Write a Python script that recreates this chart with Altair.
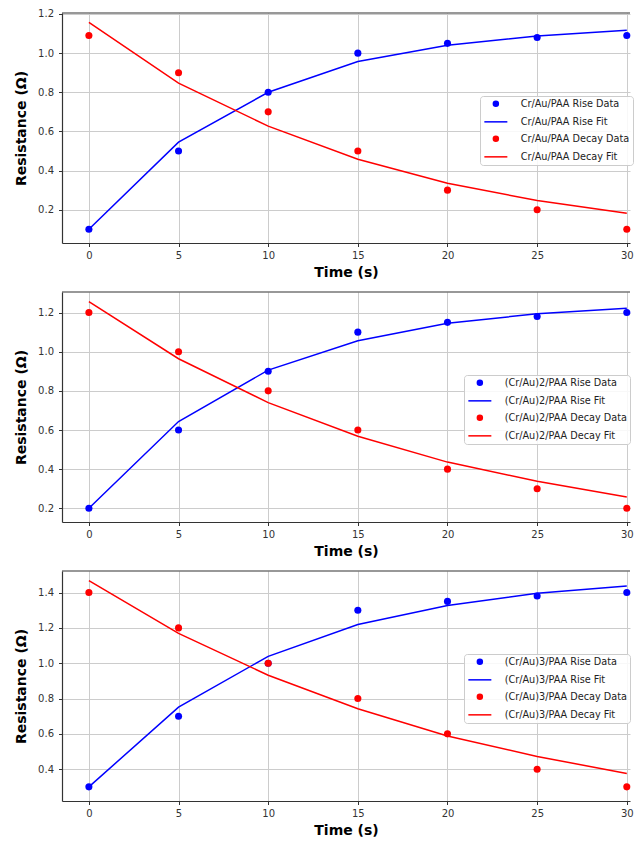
import altair as alt
import pandas as pd

# ---------------- data ----------------
time_s = [0, 5, 10, 15, 20, 25, 30]

panel_names = ["Cr/Au/PAA", "(Cr/Au)2/PAA", "(Cr/Au)3/PAA"]

rise_data_1 = [0.10, 0.50, 0.80, 1.00, 1.05, 1.08, 1.09]
rise_fit_1 = [0.10, 0.545, 0.80, 0.957, 1.04, 1.088, 1.117]
decay_data_1 = [1.09, 0.90, 0.70, 0.50, 0.30, 0.20, 0.10]
decay_fit_1 = [1.157, 0.847, 0.627, 0.458, 0.335, 0.247, 0.182]

rise_data_2 = [0.20, 0.60, 0.90, 1.10, 1.15, 1.18, 1.20]
rise_fit_2 = [0.20, 0.643, 0.906, 1.056, 1.145, 1.194, 1.222]
decay_data_2 = [1.20, 1.00, 0.80, 0.60, 0.40, 0.30, 0.20]
decay_fit_2 = [1.256, 0.964, 0.740, 0.568, 0.436, 0.338, 0.258]

rise_data_3 = [0.30, 0.70, 1.00, 1.30, 1.35, 1.38, 1.40]
rise_fit_3 = [0.30, 0.751, 1.039, 1.219, 1.327, 1.396, 1.437]
decay_data_3 = [1.40, 1.20, 1.00, 0.80, 0.60, 0.40, 0.30]
decay_fit_3 = [1.467, 1.169, 0.932, 0.742, 0.588, 0.472, 0.376]

y_domains = [[0.03, 1.205], [0.13, 1.305], [0.22, 1.522]]
y_ticks = [[0.2, 0.4, 0.6, 0.8, 1.0, 1.2],
           [0.2, 0.4, 0.6, 0.8, 1.0, 1.2],
           [0.4, 0.6, 0.8, 1.0, 1.2, 1.4]]
x_ticks = [0, 5, 10, 15, 20, 25, 30]
legend_x = [418, 402, 402]
legend_y = [83, 83, 83]

series_sets = [
    (rise_data_1, rise_fit_1, decay_data_1, decay_fit_1),
    (rise_data_2, rise_fit_2, decay_data_2, decay_fit_2),
    (rise_data_3, rise_fit_3, decay_data_3, decay_fit_3),
]

BLUE = "#0000ff"
RED = "#ff0000"
LINE_SYMBOL = "M-4.6,0H4.6"
W = 568
H = 230
X_MAX = -1.5 + W / 17.93


def make_panel(i):
    name = panel_names[i]
    rd, rf, dd, df = series_sets[i]
    labels = [f"{name} Rise Data", f"{name} Rise Fit",
              f"{name} Decay Data", f"{name} Decay Fit"]

    pts = pd.DataFrame({
        "time": time_s + time_s,
        "value": rd + dd,
        "series": [labels[0]] * 7 + [labels[2]] * 7,
    })
    fits = pd.DataFrame({
        "time": time_s + time_s,
        "value": rf + df,
        "series": [labels[1]] * 7 + [labels[3]] * 7,
    })

    legend = alt.Legend(
        orient="none", legendX=legend_x[i], legendY=legend_y[i], title=None,
        labelFont="DejaVu Sans", labelFontSize=9.7, labelColor="#222222",
        symbolSize=25, symbolStrokeWidth=1.5, symbolOffset=8, labelOffset=20,
        padding=3, rowPadding=6, strokeColor="#cccccc",
        fillColor="rgba(255,255,255,0.85)", cornerRadius=3, labelLimit=300,
    )
    color = alt.Color("series:N",
                      scale=alt.Scale(domain=labels, range=[BLUE, BLUE, RED, RED]),
                      legend=legend)
    shape = alt.Shape("series:N",
                      scale=alt.Scale(domain=labels,
                                      range=["circle", LINE_SYMBOL, "circle", LINE_SYMBOL]),
                      legend=legend)
    x = alt.X("time:Q",
              scale=alt.Scale(domain=[-1.5, X_MAX], nice=False, zero=False),
              axis=alt.Axis(values=x_ticks, title="Time (s)", format="d"))
    y = alt.Y("value:Q",
              scale=alt.Scale(domain=y_domains[i], nice=False, zero=False),
              axis=alt.Axis(values=y_ticks[i], format=".1f", title="Resistance (Ω)"))

    points = alt.Chart(pts).mark_point(filled=True, size=50, opacity=1).encode(
        x=x, y=y, color=color, shape=shape)
    lines = alt.Chart(fits).mark_line(strokeWidth=1.5).encode(
        x=x, y=y, color=color, detail="series:N")
    spine = alt.Chart(pd.DataFrame({"k": [0]})).mark_rule(
        color="#333333", strokeWidth=1.2).encode(
        x=alt.value(0), x2=alt.value(W), y=alt.value(0))

    return alt.layer(points, lines, spine).properties(width=W, height=H)


chart = alt.vconcat(make_panel(0), make_panel(1), make_panel(2), spacing=11).resolve_scale(
    color="independent", shape="independent"
).properties(
    padding={"left": 6, "top": 0, "right": 0, "bottom": 0}
).configure_view(
    stroke=None
).configure_axis(
    domainColor="#333333", domainWidth=1.2,
    tickColor="#333333", tickSize=3.5, tickWidth=1,
    labelFont="DejaVu Sans", labelFontSize=10, labelColor="#333333",
    titleFont="DejaVu Sans", titleFontSize=14, titleFontWeight="bold", titleColor="#000000",
    gridColor="#cccccc", gridWidth=1,
).configure_axisX(
    labelPadding=4, titlePadding=5,
).configure_axisY(
    labelPadding=5, titlePadding=9,
)

chart.save("out.html", embed_options={"renderer": "svg", "actions": False})
